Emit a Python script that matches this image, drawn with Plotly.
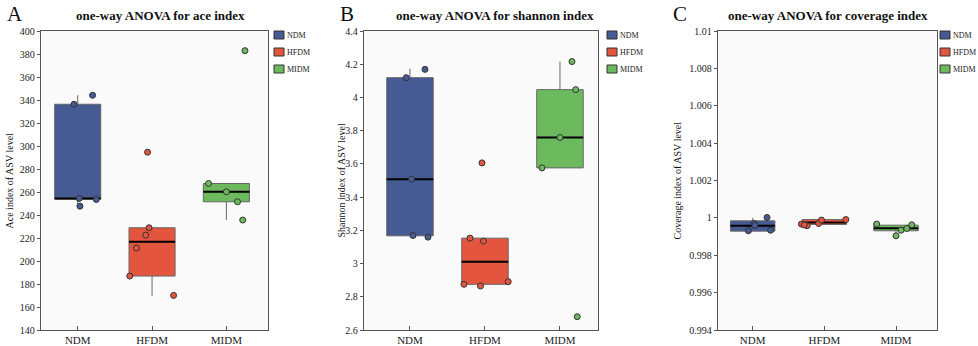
import plotly.graph_objects as go

W, H = 978, 346

groups = ["NDM", "HFDM", "MIDM"]
colors = ["#465a93", "#e3553f", "#6dba5e"]

# ---- Panel A: ace index ----
ace_q1 = [253.8, 186.9, 251.5]
ace_med = [254.4, 216.7, 260.2]
ace_q3 = [336.3, 228.9, 267.4]
ace_lo = [248.0, 169.8, 235.6]
ace_hi = [344.1, 228.9, 267.4]
ace_ndm = [336.3, 344.1, 254.4, 247.7, 253.5]
ace_hfdm = [294.6, 228.9, 222.5, 211.2, 186.9, 170.1]
ace_midm = [267.4, 260.2, 251.5, 235.6, 382.9]

# ---- Panel B: shannon index ----
sh_q1 = [3.167, 2.875, 3.576]
sh_med = [3.508, 3.011, 3.759]
sh_q3 = [4.119, 3.153, 4.047]
sh_lo = [3.167, 2.875, 3.576]
sh_hi = [4.173, 3.153, 4.216]
sh_ndm = [4.119, 4.169, 3.508, 3.169, 3.159]
sh_hfdm = [3.153, 3.135, 3.606, 2.875, 2.865, 2.891]
sh_midm = [3.576, 3.759, 4.047, 4.216, 2.680]

# ---- Panel C: coverage index ----
cv_q1 = [0.99929, 0.99965, 0.99931]
cv_med = [0.99958, 0.99975, 0.99944]
cv_q3 = [0.99984, 0.99991, 0.99961]
cv_lo = [0.99929, 0.99965, 0.99904]
cv_hi = [1.00000, 0.99991, 0.99961]
cv_ndm = [0.99931, 0.99970, 0.99960, 1.00002, 0.99934]
cv_hfdm = [0.99967, 0.99958, 0.99962, 0.99970, 0.99988, 0.99991]
cv_midm = [0.99967, 0.99904, 0.99934, 0.99943, 0.99963]

# horizontal jitter of the points (position, in category units)
ace_jit = [[-0.05, 0.20, 0.02, 0.03, 0.25],
           [-0.06, -0.04, -0.085, -0.21, -0.30, 0.29],
           [-0.24, 0.0, 0.15, 0.22, 0.25]]
sh_jit = [[-0.05, 0.20, 0.02, 0.04, 0.24],
          [-0.20, -0.02, -0.04, -0.28, -0.06, 0.31],
          [-0.24, 0.0, 0.21, 0.16, 0.23]]
cv_jit = [[-0.06, 0.02, 0.03, 0.20, 0.25],
          [-0.32, -0.24, -0.28, -0.08, -0.04, 0.30],
          [-0.27, 0.0, 0.07, 0.15, 0.22]]

panels = [
    dict(letter="A", title="one-way ANOVA for ace index", ylabel="Ace index of ASV level",
         q1=ace_q1, med=ace_med, q3=ace_q3, lo=ace_lo, hi=ace_hi,
         pts=[ace_ndm, ace_hfdm, ace_midm], jit=ace_jit,
         yrange=[140, 400], dtick=20,
         px=(41, 268), xrange=[-0.494, 2.56], title_x=160.5, letter_x=5, ylab_x=9, leg_x=274),
    dict(letter="B", title="one-way ANOVA for shannon index", ylabel="Shannon index of ASV level",
         q1=sh_q1, med=sh_med, q3=sh_q3, lo=sh_lo, hi=sh_hi,
         pts=[sh_ndm, sh_hfdm, sh_midm], jit=sh_jit,
         yrange=[2.6, 4.4], dtick=0.2,
         px=(364, 598), xrange=[-0.613, 2.507], title_x=494.7, letter_x=338, ylab_x=341, leg_x=607),
    dict(letter="C", title="one-way ANOVA for coverage index", ylabel="Coverage index of ASV level",
         q1=cv_q1, med=cv_med, q3=cv_q3, lo=cv_lo, hi=cv_hi,
         pts=[cv_ndm, cv_hfdm, cv_midm], jit=cv_jit,
         yrange=[0.994, 1.01], dtick=0.002,
         px=(718, 937), xrange=[-0.484, 2.572], title_x=827.7, letter_x=671, ylab_x=677, leg_x=940),
]

FONT = "Liberation Serif"
BOXW = 0.62
PLOT_TOP, PLOT_BOT = 31, 330

fig = go.Figure()
layout = dict(
    width=W, height=H, margin=dict(l=0, r=0, t=0, b=0),
    paper_bgcolor="white", plot_bgcolor="#fafafa",
    showlegend=False, boxmode="overlay",
    font=dict(family=FONT, size=10, color="#222"),
    annotations=[], shapes=[],
)

for k, p in enumerate(panels):
    sfx = "" if k == 0 else str(k + 1)
    xa, ya = "x" + sfx, "y" + sfx
    for i, g in enumerate(groups):
        fig.add_trace(go.Box(
            x=[i], q1=[p["q1"][i]], median=[p["med"][i]], q3=[p["q3"][i]],
            lowerfence=[p["lo"][i]], upperfence=[p["hi"][i]],
            width=BOXW, whiskerwidth=0, fillcolor=colors[i],
            line=dict(color="#666", width=1), boxpoints=False,
            xaxis=xa, yaxis=ya, hoverinfo="skip", name=g))
        fig.add_trace(go.Scatter(
            x=[i - BOXW / 2, i + BOXW / 2], y=[p["med"][i], p["med"][i]],
            mode="lines", line=dict(color="black", width=2),
            xaxis=xa, yaxis=ya, hoverinfo="skip"))
        fig.add_trace(go.Scatter(
            x=[i + d for d in p["jit"][i]], y=p["pts"][i], mode="markers",
            marker=dict(size=6, color=colors[i], line=dict(color="#333", width=1)),
            xaxis=xa, yaxis=ya, name=g))
    x0, x1 = p["px"]
    layout["xaxis" + sfx] = dict(
        domain=[x0 / W, x1 / W], anchor=ya, range=p["xrange"],
        tickvals=[0, 1, 2], ticktext=groups, ticks="inside", ticklen=4,
        tickcolor="#555", showgrid=False, zeroline=False,
        showline=True, mirror=True, linecolor="#555", linewidth=1.3,
        tickfont=dict(family=FONT, size=11, color="#222"), automargin=False)
    layout["yaxis" + sfx] = dict(
        domain=[1 - PLOT_BOT / H, 1 - PLOT_TOP / H], anchor=xa, range=p["yrange"],
        dtick=p["dtick"], tick0=p["yrange"][0], ticks="outside", ticklen=3,
        tickcolor="#555", showgrid=False, zeroline=False,
        showline=True, mirror=True, linecolor="#555", linewidth=1.3,
        tickfont=dict(family=FONT, size=10, color="#222"), automargin=False)
    # titles, panel letters, y-axis labels
    layout["annotations"].append(dict(
        text=p["title"], x=p["title_x"] / W, y=1 - 16 / H, xref="paper", yref="paper",
        xanchor="center", yanchor="middle", showarrow=False,
        font=dict(family=FONT, size=13, color="#111", weight="bold")))
    layout["annotations"].append(dict(
        text=p["letter"], x=p["letter_x"] / W, y=1 - 14 / H, xref="paper", yref="paper",
        xanchor="left", yanchor="middle", showarrow=False,
        font=dict(family=FONT, size=21, color="#111")))
    layout["annotations"].append(dict(
        text=p["ylabel"], x=p["ylab_x"] / W, y=1 - ((PLOT_TOP + PLOT_BOT) / 2) / H,
        xref="paper", yref="paper", xanchor="center", yanchor="middle",
        textangle=-90, showarrow=False, font=dict(family=FONT, size=10, color="#111")))
    # legend (one per panel)
    for i, g in enumerate(groups):
        cy = 35 + 17 * i
        lx = p["leg_x"]
        layout["shapes"].append(dict(
            type="rect", xref="paper", yref="paper",
            x0=lx / W, x1=(lx + 10) / W, y0=1 - (cy + 4) / H, y1=1 - (cy - 4) / H,
            fillcolor=colors[i], line=dict(color="#333", width=1)))
        layout["annotations"].append(dict(
            text=g, x=(lx + 11) / W, y=1 - cy / H, xref="paper", yref="paper",
            xanchor="left", yanchor="middle", showarrow=False,
            font=dict(family=FONT, size=8, color="#222")))

fig.update_layout(**layout)
fig.write_html("out.html")
